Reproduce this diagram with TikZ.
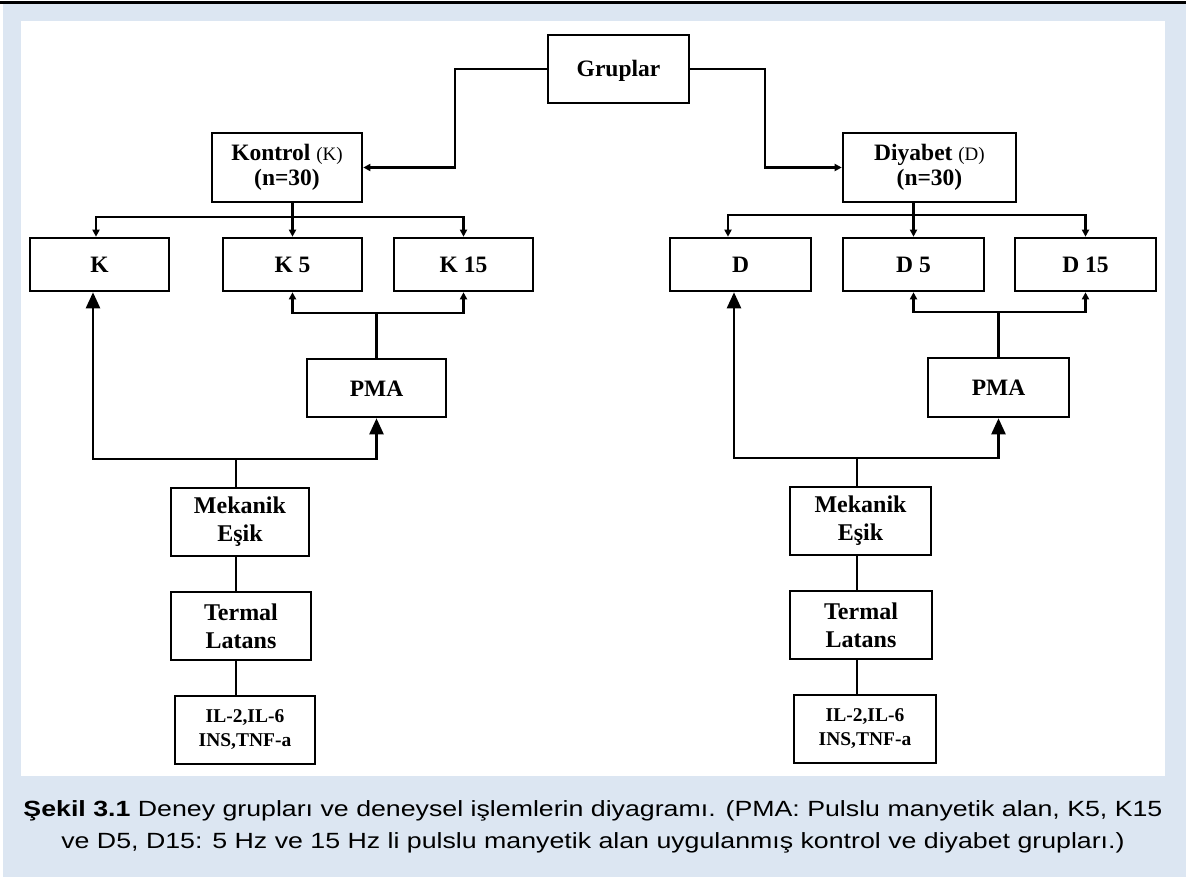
\documentclass[tikz,border=0pt]{standalone}
\usepackage{fontspec}
\setmainfont{Liberation Serif}
\newfontfamily\capfont[FakeStretch=1.215]{Liberation Sans}
\usetikzlibrary{arrows.meta}
\definecolor{bgblue}{HTML}{DCE6F2}
\begin{document}
\begin{tikzpicture}[x=1pt,y=-1pt,
  box/.style={draw, line width=2.6pt, rectangle, inner sep=0pt, align=center,
    font=\fontsize{23.5}{27}\selectfont\bfseries},
  oneline/.style={text height=16pt, text depth=0pt},
  twoline/.style={font=\fontsize{24}{28}\selectfont\bfseries},
  conn/.style={line width=2.4pt, line cap=rect},
  sarr/.style={conn, -{Triangle[length=7pt,width=7pt]}},
  barr/.style={conn, -{Triangle[length=16pt,width=14pt]}},
  captext/.style={align=center, inner sep=0pt, font=\capfont\fontsize{22}{32}\selectfont}
]
% background and panel
\fill[white] (0,0) rectangle (1186,877);
\fill[bgblue] (3,4) rectangle (1186,877);
\fill[black] (0,1.5) rectangle (1186,4);
\fill[white] (21,21) rectangle (1165,776);
\useasboundingbox (0,0) rectangle (1186,877);

% helper coordinates
\coordinate (gL) at (455,0);
\coordinate (gR) at (765,0);
\coordinate (kbr) at (0,217);
\coordinate (dbr) at (0,215);
\coordinate (kpb) at (0,313);
\coordinate (dpb) at (0,312);
\coordinate (klb) at (0,459);
\coordinate (dlb) at (0,458);
\coordinate (kA) at (96,0);
\coordinate (kB) at (93,0);
\coordinate (kS) at (236,0);
\coordinate (dA) at (728,0);
\coordinate (dB) at (734,0);
\coordinate (dS) at (857,0);

% nodes
\node[box, oneline, minimum width=141pt, minimum height=68pt] (gr) at (618.5,69) {Gruplar};
\node[box, minimum width=150pt, minimum height=69pt, font=\fontsize{23.5}{25}\selectfont\bfseries] (kon) at (287,167.5)
  {Kontrol {\mdseries\fontsize{19}{19}\selectfont(K)}\\(n=30)};
\node[box, minimum width=173pt, minimum height=69pt, font=\fontsize{23.5}{25}\selectfont\bfseries] (dia) at (929.5,167.5)
  {Diyabet {\mdseries\fontsize{19}{19}\selectfont(D)}\\(n=30)};

\node[box, oneline, minimum width=139pt, minimum height=53pt] (k) at (99.5,264.5) {K};
\node[box, oneline, minimum width=139pt, minimum height=53pt] (k5) at (292.5,264.5) {K 5};
\node[box, oneline, minimum width=139pt, minimum height=53pt] (k15) at (463.5,264.5) {K 15};
\node[box, oneline, minimum width=141pt, minimum height=53pt] (d) at (740.5,264.5) {D};
\node[box, oneline, minimum width=141pt, minimum height=53pt] (d5) at (913.5,264.5) {D 5};
\node[box, oneline, minimum width=141pt, minimum height=53pt] (d15) at (1085.5,264.5) {D 15};

\node[box, oneline, minimum width=139pt, minimum height=58pt] (pmaK) at (376.5,388) {PMA};
\node[box, oneline, minimum width=141pt, minimum height=59pt] (pmaD) at (998.5,387.5) {PMA};

\node[box, twoline, minimum width=138pt, minimum height=68pt] (mekK) at (240,522) {Mekanik\\Eşik};
\node[box, twoline, minimum width=141pt, minimum height=68pt] (mekD) at (860.5,521) {Mekanik\\Eşik};
\node[box, twoline, minimum width=140pt, minimum height=68pt] (terK) at (241,626) {Termal\\Latans};
\node[box, twoline, minimum width=142pt, minimum height=68pt] (terD) at (861,625) {Termal\\Latans};
\node[box, minimum width=140pt, minimum height=68pt, font=\fontsize{19.5}{24}\selectfont\bfseries] (ilK) at (245,730) {IL-2,IL-6\\INS,TNF-a};
\node[box, minimum width=142pt, minimum height=68pt, font=\fontsize{19.5}{24}\selectfont\bfseries] (ilD) at (865,729) {IL-2,IL-6\\INS,TNF-a};

% Gruplar connectors
\draw[sarr] (gr.west) -- (gr.west -| gL) |- (kon.east);
\draw[sarr] (gr.east) -- (gr.east -| gR) |- (dia.west);

% Kontrol branches
\draw[conn] (kon.south -| k5.north) -- (kbr -| k5.north);
\draw[conn] (kbr -| kA) -- (kbr -| k15.north);
\draw[sarr] (kbr -| kA) -- (kA |- k.north);
\draw[sarr] (kbr -| k5.north) -- (k5.north);
\draw[sarr] (kbr -| k15.north) -- (k15.north);

% Diyabet branches
\draw[conn] (dia.south -| d5.north) -- (dbr -| d5.north);
\draw[conn] (dbr -| dA) -- (dbr -| d15.north);
\draw[sarr] (dbr -| dA) -- (dA |- d.north);
\draw[sarr] (dbr -| d5.north) -- (d5.north);
\draw[sarr] (dbr -| d15.north) -- (d15.north);

% PMA to K5/K15
\draw[conn] (pmaK.north) -- (kpb -| pmaK.north);
\draw[conn] (kpb -| k5.south) -- (kpb -| k15.south);
\draw[sarr] (kpb -| k5.south) -- (k5.south);
\draw[sarr] (kpb -| k15.south) -- (k15.south);

% PMA to D5/D15
\draw[conn] (pmaD.north) -- (dpb -| pmaD.north);
\draw[conn] (dpb -| d5.south) -- (dpb -| d15.south);
\draw[sarr] (dpb -| d5.south) -- (d5.south);
\draw[sarr] (dpb -| d15.south) -- (d15.south);

% Mekanik to K and PMA (left)
\draw[conn] (mekK.north -| kS) -- (klb -| kS);
\draw[barr] (klb -| kS) -| (kB |- k.south);
\draw[barr] (klb -| kS) -| (pmaK.south);

% Mekanik to D and PMA (right)
\draw[conn] (mekD.north -| dS) -- (dlb -| dS);
\draw[barr] (dlb -| dS) -| (dB |- d.south);
\draw[barr] (dlb -| dS) -| (pmaD.south);

% vertical chains
\draw[conn] (kS |- mekK.south) -- (kS |- terK.north);
\draw[conn] (kS |- terK.south) -- (kS |- ilK.north);
\draw[conn] (dS |- mekD.south) -- (dS |- terD.north);
\draw[conn] (dS |- terD.south) -- (dS |- ilD.north);

% caption
\node[captext] (cap) at (593,827)
  {\textbf{Şekil 3.1} Deney grupları ve deneysel işlemlerin diyagramı. (PMA: Pulslu manyetik alan, K5, K15\\
   ve D5, D15: 5 Hz ve 15 Hz li pulslu manyetik alan uygulanmış kontrol ve diyabet grupları.)};
\end{tikzpicture}
\end{document}
